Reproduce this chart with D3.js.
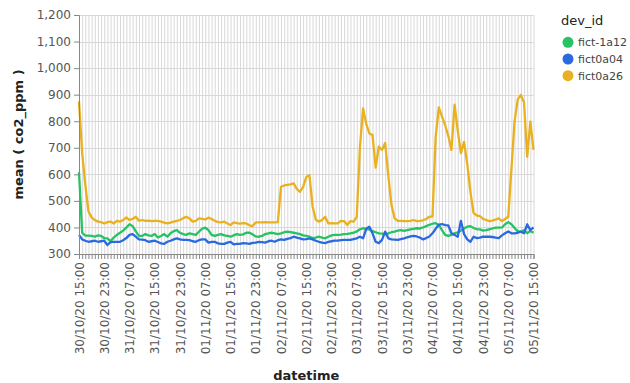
<!DOCTYPE html>
<html>
<head>
<meta charset="utf-8">
<script src="https://cdn.jsdelivr.net/npm/d3@7"></script>
<style>
  html, body { margin: 0; padding: 0; background: #fff; }
  svg { display: block; }
  text { font-family: "DejaVu Sans", sans-serif; }
</style>
</head>
<body>
<svg id="chart" width="630" height="383"></svg>
<script>
// Hourly mean CO2 (ppm) per device, 30/10/20 15:00 to 05/11/20 15:00
const startTime = new Date(2020, 9, 30, 15, 0, 0);
const deviceIds = ["fict-1a12", "fict0a04", "fict0a26"];
const deviceColors = ["#27c264", "#2a6ae0", "#e9b11f"];

const co2Fict1a12 = [
  608, 380, 369, 369, 368, 365, 370, 368,
  360, 359, 348, 362, 372, 380, 388, 400,
  412, 405, 385, 368, 368, 375, 370, 368,
  375, 362, 368, 375, 365, 378, 386, 390,
  380, 375, 372, 378, 375, 372, 384, 395,
  399, 390, 372, 368, 372, 375, 370, 368,
  365, 370, 375, 372, 374, 380, 380, 374,
  366, 365, 368, 375, 378, 380, 378, 375,
  378, 382, 384, 382, 380, 378, 375, 370,
  368, 365, 360, 362, 365, 362, 359, 365,
  370, 372, 372, 373, 375, 376, 378, 380,
  385, 393, 397, 395, 392, 386, 382, 378,
  377, 375, 378, 382, 384, 388, 390, 387,
  390, 393, 395, 397, 396, 400, 405, 410,
  414, 416, 410, 390, 372, 368, 372, 378,
  382, 388, 396, 403, 405, 398, 394, 393,
  388, 390, 393, 396, 399, 399, 400, 412,
  420, 412, 398, 386, 384, 390, 378, 387,
  380
];

const co2Fict0a04 = [
  372, 355, 350, 346, 348, 350, 346, 348,
  350, 334, 345, 346, 346, 346, 352, 360,
  372, 375, 365, 355, 354, 352, 346, 348,
  350, 345, 340, 338, 346, 350, 355, 359,
  355, 353, 353, 352, 348, 346, 352, 355,
  355, 343, 346, 346, 340, 338, 338, 343,
  346, 336, 338, 338, 341, 340, 338, 342,
  343, 346, 345, 343, 348, 350, 346, 352,
  355, 353, 357, 360, 365, 362, 359, 355,
  356, 359, 355, 350, 346, 343, 341, 346,
  348, 350, 350, 352, 353, 353, 353, 356,
  359, 365, 359, 395, 403, 378, 346, 341,
  353, 384, 359, 355, 354, 353, 356, 359,
  363, 366, 368, 366, 362, 355, 360, 366,
  378, 395, 410, 413, 409, 408, 378, 372,
  365, 425, 375, 355, 346, 365, 360, 362,
  365, 365, 365, 364, 362, 360, 370, 378,
  385, 378, 378, 380, 384, 378, 412, 390,
  400
];

const co2Fict0a26 = [
  875, 680, 560, 460, 438, 428, 422, 420,
  415, 420, 422, 415, 425, 422, 428, 438,
  428, 432, 440, 425, 428, 425, 426, 424,
  425, 425, 422, 418, 415, 418, 422, 425,
  428, 435, 440, 434, 422, 425, 434, 432,
  430, 437, 432, 425, 420, 419, 422, 415,
  409, 419, 416, 414, 416, 415, 408, 405,
  419, 419, 419, 420, 419, 419, 419, 420,
  553, 558, 560, 562, 566, 545, 534, 553,
  590, 597, 480, 430, 422, 428, 440, 415,
  416, 415, 415, 425, 424, 409, 424, 422,
  440, 700, 848, 790, 754, 748, 625, 705,
  692, 718, 595, 485, 434, 425, 425, 424,
  424, 425, 428, 424, 425, 427, 432, 440,
  442, 740, 852, 818, 785, 745, 692, 862,
  765, 680, 722, 640, 535, 455, 445, 443,
  432, 428, 424, 426, 430, 434, 424, 432,
  440, 620, 800, 882, 899, 870, 666, 798,
  692
];

const seriesValues = [co2Fict1a12, co2Fict0a04, co2Fict0a26];
const yTicks = [300, 400, 500, 600, 700, 800, 900, 1000, 1100, 1200];
const xLabelStepHours = 8;

const svg = d3.select("#chart");
const margin = { left: 79, right: 96.5, top: 15, bottom: 129 };
const W = 630, H = 383;
const plotW = W - margin.left - margin.right;
const plotH = H - margin.top - margin.bottom;

const hours = d3.range(co2Fict0a26.length);
const timeAt = h => d3.timeHour.offset(startTime, h);
const endTime = timeAt(hours.length - 1);

const x = d3.scaleTime().domain([startTime, endTime]).range([0, plotW]);
const y = d3.scaleLinear().domain([300, 1200]).range([plotH, 0]);

const g = svg.append("g").attr("transform", `translate(${margin.left},${margin.top})`);

// hourly vertical grid
const hourlyTicks = d3.timeHour.range(startTime, d3.timeHour.offset(endTime, 1));
g.append("g")
  .selectAll("line")
  .data(hourlyTicks)
  .join("line")
  .attr("x1", d => x(d) + 0.5).attr("x2", d => x(d) + 0.5)
  .attr("y1", 0).attr("y2", plotH)
  .attr("stroke", "#d8d8d8").attr("stroke-width", 1);

// horizontal grid
g.append("g")
  .selectAll("line")
  .data(yTicks)
  .join("line")
  .attr("x1", 0).attr("x2", plotW)
  .attr("y1", d => Math.round(y(d)) + 0.5).attr("y2", d => Math.round(y(d)) + 0.5)
  .attr("stroke", "#d8d8d8").attr("stroke-width", 1);

// series lines
const line = d3.line()
  .x((d, i) => x(timeAt(i)))
  .y(d => y(d));

g.append("g")
  .selectAll("path")
  .data(seriesValues)
  .join("path")
  .attr("d", d => line(d))
  .attr("fill", "none")
  .attr("stroke", (d, i) => deviceColors[i])
  .attr("stroke-width", 2.3)
  .attr("stroke-linejoin", "round");

// y axis
const yAxis = g.append("g")
  .call(d3.axisLeft(y).tickValues(yTicks).tickFormat(d3.format(",")).tickSize(5).tickPadding(3));
yAxis.select(".domain").attr("stroke", "#888");
yAxis.selectAll(".tick line").attr("stroke", "#888");
yAxis.selectAll(".tick text").attr("fill", "#555").style("font-size", "12px");

// x axis: a tick every hour, labels every 8 hours
const fmt = d3.timeFormat("%d/%m/%y %H:%M");
const xAxis = g.append("g")
  .attr("transform", `translate(0,${plotH})`)
  .call(d3.axisBottom(x)
    .tickValues(hourlyTicks)
    .tickFormat(d => (d3.timeHour.count(startTime, d) % xLabelStepHours === 0) ? fmt(d) : "")
    .tickSize(5));
xAxis.select(".domain").attr("stroke", "#888");
xAxis.selectAll(".tick line").attr("stroke", "#888");
xAxis.selectAll(".tick text")
  .attr("fill", "#555")
  .style("font-size", "12px")
  .attr("text-anchor", "end")
  .attr("transform", "rotate(-90)")
  .attr("x", -8)
  .attr("y", 0)
  .attr("dy", "0.35em");

// axis titles
svg.append("text")
  .attr("x", margin.left + plotW / 2)
  .attr("y", 380)
  .attr("text-anchor", "middle")
  .style("font-size", "13px")
  .style("font-weight", "bold")
  .attr("fill", "#222")
  .text("datetime");

svg.append("text")
  .attr("transform", `translate(23,${margin.top + plotH / 2}) rotate(-90)`)
  .attr("text-anchor", "middle")
  .style("font-size", "13px")
  .style("font-weight", "bold")
  .attr("fill", "#222")
  .text("mean ( co2_ppm )");

// legend
const legend = svg.append("g").attr("transform", "translate(561,0)");
legend.append("text")
  .attr("x", 0).attr("y", 25)
  .style("font-size", "13px")
  .attr("fill", "#222")
  .text("dev_id");
const items = legend.selectAll("g.item")
  .data(deviceIds)
  .join("g")
  .attr("class", "item")
  .attr("transform", (d, i) => `translate(0,${42.3 + i * 16.7})`);
items.append("circle")
  .attr("cx", 7).attr("cy", 0).attr("r", 5.5)
  .attr("fill", (d, i) => deviceColors[i]);
items.append("text")
  .attr("x", 17).attr("y", 0).attr("dy", "0.35em")
  .style("font-size", "11px")
  .attr("fill", "#444")
  .text(d => d);
</script>
</body>
</html>
